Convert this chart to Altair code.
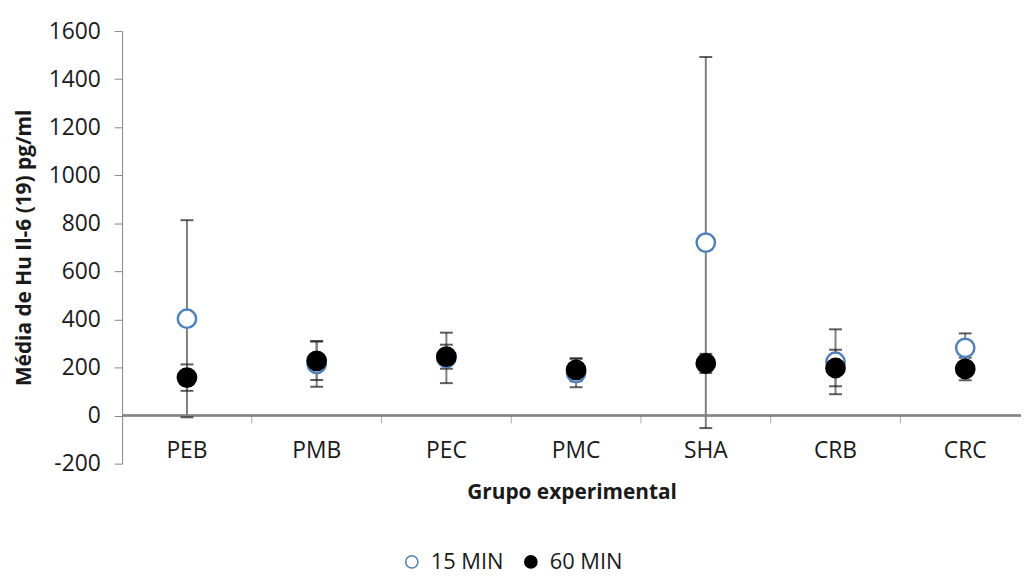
import altair as alt
import pandas as pd

categories = ["PEB", "PMB", "PEC", "PMC", "SHA", "CRB", "CRC"]
series = ["15 MIN", "60 MIN"]
mean15 = [403, 215, 240, 178, 720, 224, 282]
err15 = [410, 95, 105, 60, 772, 135, 60]
mean60 = [158, 228, 245, 190, 217, 198, 194]
err60 = [55, 80, 50, 47, 40, 76, 47]
y_ticks = list(range(-200, 1601, 200))

rows = []
for s, means, errs in [(series[0], mean15, err15), (series[1], mean60, err60)]:
    for i, (c, m, e) in enumerate(zip(categories, means, errs)):
        rows.append({"cat": c, "pos": i + 0.5, "series": s, "mean": m,
                     "lo": m - e, "hi": m + e})
df = pd.DataFrame(rows)
cat_df = pd.DataFrame({"cat": categories, "pos": [i + 0.5 for i in range(len(categories))]})
bound_df = pd.DataFrame({"b": list(range(1, len(categories)))})

FONT = "Open Sans"
GRAY = "#868686"
TXT = "#1a1a1a"
xscale = alt.Scale(domain=[0, 6.93], nice=False, zero=False)
yscale = alt.Scale(domain=[-200, 1600], nice=False)

x_enc = alt.X("pos:Q", scale=xscale,
              axis=alt.Axis(title="Grupo experimental", labels=False, ticks=False,
                            domain=False, grid=False, titleFontSize=21,
                            titleFont=FONT, titleFontWeight="bold", titleColor=TXT,
                            titlePadding=18))
y_axis = alt.Axis(title="Média de Hu Il-6 (19) pg/ml", values=y_ticks, grid=False,
                  labelExpr="datum.value + ''",
                  labelFontSize=23, labelFont=FONT, labelColor=TXT,
                  tickSize=8, tickColor=GRAY, domainColor=GRAY, labelPadding=14,
                  titleFontSize=21, titleFont=FONT, titleFontWeight="bold",
                  titleColor=TXT, titlePadding=14)

zero_line = alt.Chart(cat_df).mark_rule(color=GRAY, strokeWidth=1.5).encode(
    y=alt.datum(0, scale=yscale))
bticks = alt.Chart(bound_df).mark_tick(orient="vertical", color=GRAY, size=8,
                                       thickness=1, yOffset=4).encode(
    x=alt.X("b:Q", scale=xscale), y=alt.datum(0, scale=yscale))
cat_labels = alt.Chart(cat_df).mark_text(fontSize=23, font=FONT, color=TXT,
                                         dy=36, baseline="middle").encode(
    x=alt.X("pos:Q", scale=xscale), y=alt.datum(0, scale=yscale), text="cat:N")

bars = alt.Chart(df).mark_rule(color="#7f7f7f", strokeWidth=2).encode(
    x=alt.X("pos:Q", scale=xscale), y=alt.Y("lo:Q", scale=yscale), y2="hi:Q")
caps_lo = alt.Chart(df).mark_tick(orient="horizontal", color=TXT, size=13,
                                  thickness=2).encode(
    x=alt.X("pos:Q", scale=xscale), y=alt.Y("lo:Q", scale=yscale))
caps_hi = alt.Chart(df).mark_tick(orient="horizontal", color=TXT, size=13,
                                  thickness=2).encode(
    x=alt.X("pos:Q", scale=xscale), y=alt.Y("hi:Q", scale=yscale))

points = alt.Chart(df).mark_point(shape="circle", size=340, strokeWidth=2.5,
                                  opacity=1, filled=False).encode(
    x=x_enc,
    y=alt.Y("mean:Q", scale=yscale, axis=y_axis),
    fill=alt.Fill("series:N", scale=alt.Scale(domain=series, range=["white", "black"]),
                  legend=alt.Legend(title=None, orient="none", direction="horizontal",
                                    legendX=281, legendY=524, labelFontSize=22,
                                    labelFont=FONT, labelColor=TXT, symbolSize=150,
                                    symbolStrokeWidth=1.5, labelOffset=8,
                                    columnPadding=16)),
    stroke=alt.Stroke("series:N", scale=alt.Scale(domain=series, range=["#4F81BD", "black"]),
                      legend=None),
    order=alt.Order("series:N"),
)

chart = alt.layer(zero_line, bticks, cat_labels, bars, caps_lo, caps_hi, points).properties(
    width=906, height=436,
    autosize=alt.AutoSizeParams(type="none"),
    padding={"left": 115, "top": 21, "right": 0, "bottom": 113},
).configure_view(stroke=None).configure_legend(padding=0)

chart.save("out.html", embed_options={"renderer": "svg", "actions": False})
